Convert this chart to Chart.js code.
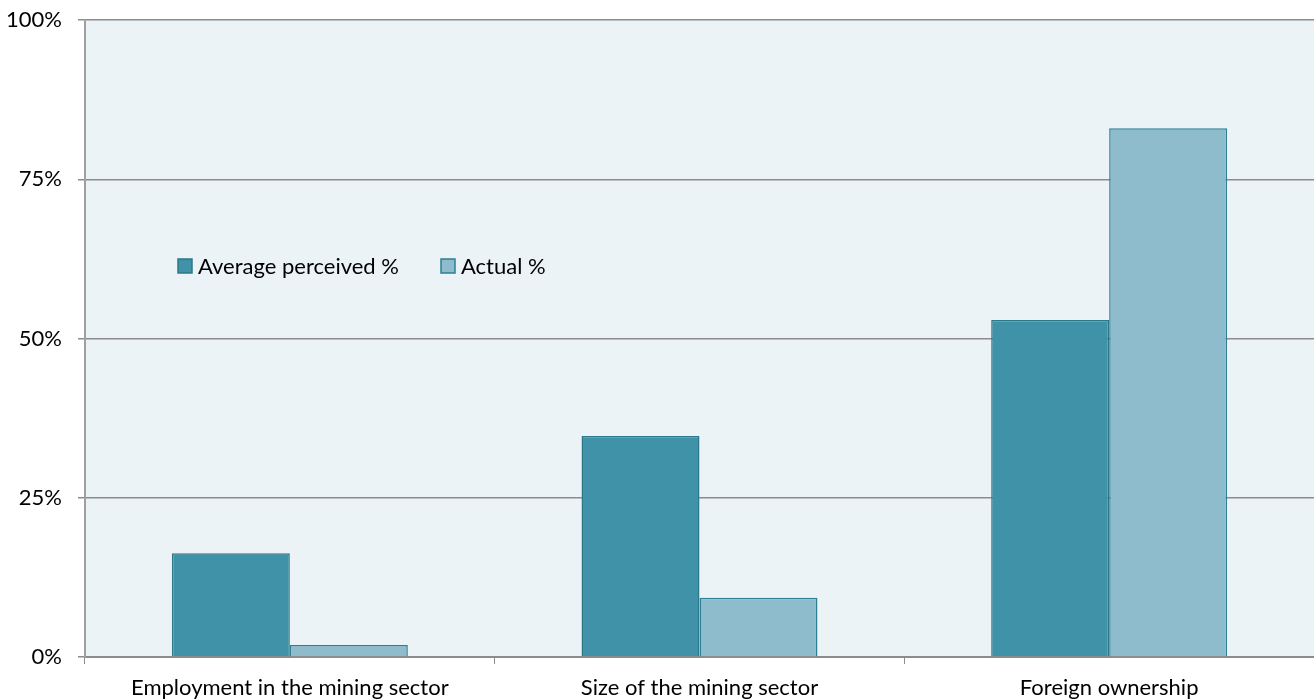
<!DOCTYPE html>
<html>
<head>
<meta charset="utf-8">
<script src="https://cdn.jsdelivr.net/npm/chart.js@4/dist/chart.umd.min.js"></script>
<style>
  html, body { margin: 0; padding: 0; background: #fff; }
  #wrap { width: 1314px; height: 700px; }
</style>
</head>
<body>
<div id="wrap"><canvas id="myChart"></canvas></div>
<script>
// categories and values
const labels = ['Employment in the mining sector', 'Size of the mining sector', 'Foreign ownership'];
const perceived = [16.3, 34.7, 52.9];
const actual = [1.9, 9.3, 83.0];
const yTicks = [0, 25, 50, 75, 100];

const FONT = 'Lato, "Open Sans", sans-serif';

// fill the plot area in light blue
const plotBg = {
  id: 'plotBg',
  beforeDraw(chart) {
    const { ctx, chartArea: a } = chart;
    ctx.save();
    ctx.fillStyle = '#ebf3f7';
    ctx.fillRect(a.left, a.top, a.right - a.left, a.bottom - a.top);
    ctx.restore();
  }
};

// legend sits inside the plot, so draw it by hand
const innerLegend = {
  id: 'innerLegend',
  afterDraw(chart) {
    const ctx = chart.ctx;
    ctx.save();
    ctx.font = '22px ' + FONT;
    ctx.textBaseline = 'middle';
    let x = 178;
    const y = 266;
    chart.data.datasets.forEach(ds => {
      ctx.fillStyle = ds.backgroundColor;
      ctx.strokeStyle = ds.borderColor;
      ctx.lineWidth = 1.5;
      ctx.fillRect(x, y - 7, 14, 14);
      ctx.strokeRect(x, y - 7, 14, 14);
      ctx.fillStyle = '#000';
      ctx.fillText(ds.label, x + 20, y + 1);
      x += 263;
    });
    ctx.restore();
  }
};

const data = {
  labels: labels,
  datasets: [{
    label: 'Average perceived %',
    backgroundColor: '#3f92a7',
    borderColor: '#2b7889',
    borderWidth: 1.5,
    data: perceived
  }, {
    label: 'Actual %',
    backgroundColor: '#8fbccc',
    borderColor: '#2b8094',
    borderWidth: 1.5,
    data: actual
  }]
};

const config = {
  type: 'bar',
  data: data,
  plugins: [plotBg, innerLegend],
  options: {
    responsive: true,
    maintainAspectRatio: false,
    animation: false,
    layout: { padding: { top: 20, right: 0, left: 0, bottom: 0 } },
    datasets: { bar: { categoryPercentage: 0.576, barPercentage: 1.0 } },
    plugins: { legend: { display: false }, tooltip: { enabled: false } },
    scales: {
      x: {
        grid: { drawOnChartArea: false, color: '#8c8c8c', tickLength: 7, offset: true },
        border: { color: '#8c8c8c', width: 2 },
        ticks: { color: '#000', font: { size: 22, family: FONT }, padding: 11, maxRotation: 0 },
        afterFit(scale) { scale.height = 43; scale.paddingLeft = 0; scale.paddingRight = 0; }
      },
      y: {
        min: 0,
        max: 100,
        afterBuildTicks(scale) { scale.ticks = yTicks.map(v => ({ value: v })); },
        grid: { color: '#8c8c8c', lineWidth: 1.5, tickLength: 7 },
        border: { color: '#a0a0a0', width: 2 },
        ticks: {
          color: '#000',
          font: { size: 22, family: FONT },
          padding: 16,
          callback: v => v + '%'
        },
        afterFit(scale) { scale.width = 85; scale.paddingTop = 0; scale.paddingBottom = 0; }
      }
    }
  }
};

const myChart = new Chart(document.getElementById('myChart'), config);
</script>
</body>
</html>
